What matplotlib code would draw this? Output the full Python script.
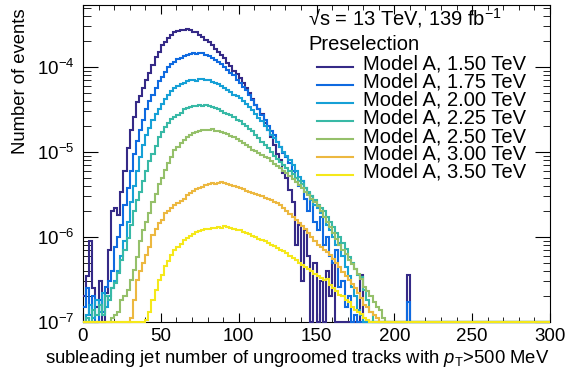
import numpy as np
import matplotlib
matplotlib.use("Agg")
import matplotlib.pyplot as plt
from matplotlib.ticker import MultipleLocator, LogLocator, NullFormatter
from matplotlib.lines import Line2D

plt.rcParams['font.family'] = ['Liberation Sans', 'DejaVu Sans']
plt.rcParams['mathtext.fontset'] = 'custom'
plt.rcParams['mathtext.rm'] = 'Liberation Sans'
plt.rcParams['mathtext.it'] = 'Liberation Sans:italic'
plt.rcParams['mathtext.bf'] = 'Liberation Sans:bold'

# track multiplicity in bins of 2, from 0 up to 210 (all empty above)
# values, in units of 1e-7 events
edges = np.arange(0, 302, 2)
unit = 1e-7

m150 = [2.0, 3.5, 9.0, 2.5, 1.5, 3.0, 0, 2.2, 7, 20,
        22, 18, 34, 60, 110, 180, 260, 390, 450, 560,
        700, 850, 1060, 1300, 1500, 1800, 1950, 2200, 2350, 2550,
        2650, 2750, 2700, 2780, 2700, 2600, 2550, 2380, 2250, 2100,
        1950, 1800, 1650, 1520, 1400, 1280, 1120, 1030, 900, 820,
        740, 640, 560, 490, 420, 360, 320, 280, 220, 180,
        150, 120, 95, 80, 56, 50, 36, 26, 8, 14,
        3, 12, 6, 0, 5, 0, 3, 0, 4, 2,
        5, 0, 0, 0, 0, 0, 0, 0, 0, 3.6,
        0, 0, 0, 0, 0, 0, 0, 0, 0, 0,
        0, 0, 0, 0, 3.6]
m175 = [1.5, 2.5, 1.2, 2.0, 0, 1.8, 1.3, 2.6, 3, 4,
        7.6, 10, 14, 24, 38, 60, 95, 135, 180, 240,
        320, 400, 470, 570, 680, 770, 880, 1000, 1080, 1140,
        1230, 1280, 1330, 1400, 1430, 1460, 1440, 1470, 1450, 1400,
        1340, 1290, 1210, 1150, 1080, 1000, 930, 850, 800, 700,
        640, 580, 530, 470, 410, 360, 320, 270, 240, 200,
        175, 160, 130, 115, 97, 88, 74, 60, 50, 40,
        45, 28, 20, 30, 15, 12, 17, 8, 10, 6,
        5, 7, 2.6, 3, 1.5, 2, 0, 1.2, 0, 0,
        0, 0, 0, 0, 0, 0, 0, 0, 0, 0,
        0, 0, 0, 0, 1.7]
m200 = [0, 1.2, 1.6, 1.1, 1.8, 1.3, 2.2, 1.5, 2.0, 2.5,
        3.0, 4.0, 6, 9, 15, 26, 40, 60, 88, 120,
        160, 190, 235, 280, 320, 370, 420, 470, 520, 560,
        600, 630, 650, 680, 700, 710, 690, 720, 730, 710,
        700, 670, 650, 630, 600, 560, 540, 510, 470, 450,
        430, 400, 370, 340, 310, 280, 250, 230, 200, 180,
        160, 145, 130, 115, 100, 90, 80, 70, 60, 51,
        45, 38, 33, 27, 24, 22, 19, 17, 14, 12,
        10, 8, 8.5, 6, 4.4, 3.5, 2.6, 2, 1.4, 1.2]
m225 = [0, 1.1, 0, 1.4, 1.2, 1.6, 1.2, 2, 1.8, 2.5,
        2.9, 3.8, 5.4, 7, 9.8, 14, 20, 27, 34, 45,
        60, 78, 95, 118, 150, 170, 195, 220, 245, 260,
        275, 290, 320, 325, 335, 345, 350, 355, 350, 360,
        345, 340, 330, 320, 300, 290, 280, 270, 255, 240,
        230, 215, 200, 185, 175, 160, 145, 130, 120, 110,
        100, 90, 82, 76, 70, 65, 60, 55, 50, 46,
        42, 38, 34, 30, 27, 24, 22, 20, 17, 15,
        13, 11, 10, 8.5, 7.2, 5.8, 5, 4.2, 3.6, 3.4,
        2.4, 1.8, 1.3]
m250 = [0, 0, 0, 0, 0, 0, 0, 0, 0, 1.1,
        1.2, 1.3, 1.8, 2.0, 2.4, 3.1, 4.1, 5.8, 9, 12,
        15, 19, 26, 32, 42, 50, 62, 74, 88, 105,
        115, 127, 140, 150, 160, 167, 172, 178, 180, 183,
        181, 185, 178, 175, 172, 168, 162, 155, 150, 142,
        135, 127, 120, 114, 106, 102, 97, 92, 88, 84,
        78, 72, 68, 64, 60, 56, 52, 48, 44, 41,
        38, 34, 31, 28, 26, 23, 20, 17, 15, 13,
        11, 9.5, 8, 7, 6.3, 5.4, 4.8, 4.2, 3.7, 3.2,
        2.6, 2.3, 2.0, 1.7, 1.5, 1.4, 1.1]
m300 = [0, 0, 0, 0, 0, 0, 0, 0, 0, 0,
        0, 0, 0, 0, 0, 1.1, 1.8, 3.1, 4.0, 4.9,
        6.2, 7.6, 10.5, 12.5, 14.5, 16, 19, 20.5, 22, 23.5,
        25, 26.5, 28, 31, 33, 35, 37, 38, 39, 41,
        42, 43, 42, 43, 44, 43, 42, 41, 40, 39,
        38, 37, 35, 34, 33, 32, 31, 30, 29, 28,
        27, 26, 25, 23.5, 22, 20, 18.5, 17, 15.8, 14.5,
        13.5, 12.5, 11, 10, 9, 8, 7.6, 7, 6.6, 6.2,
        5.5, 5.0, 4.4, 3.9, 3.5, 3.1, 2.8, 2.5, 2.2, 1.9,
        1.6, 1.5, 1.3, 1.2, 1.1]
m350 = [0, 0, 0, 0, 0, 0, 0, 0, 0, 0,
        0, 0, 0, 0, 0, 0, 0, 0, 0, 0,
        1.05, 1.3, 1.8, 2.4, 3.1, 3.6, 4.5, 5.2, 6.2, 7,
        7.6, 8.2, 9.2, 9.8, 10.3, 10.8, 11.4, 11.8, 12.2, 12.5,
        12.3, 12.7, 12.8, 13, 12.9, 13.3, 13, 12.6, 12.4, 12,
        12.2, 11.5, 11, 10.8, 10.4, 10.0, 9.6, 9.2, 8.9, 8.5,
        8.1, 7.8, 7.4, 7.0, 6.8, 6.4, 6.0, 5.6, 5.4, 5.0,
        4.7, 4.4, 4.2, 4.0, 3.7, 3.5, 3.3, 3.1, 3.2, 2.7,
        2.5, 2.3, 2.1, 2.0, 1.8, 1.7, 1.5, 1.4, 1.3, 1.25,
        1.1, 1.05]

series = [m150, m175, m200, m225, m250, m300, m350]
labels = ["Model A, 1.50 TeV", "Model A, 1.75 TeV", "Model A, 2.00 TeV",
          "Model A, 2.25 TeV", "Model A, 2.50 TeV", "Model A, 3.00 TeV",
          "Model A, 3.50 TeV"]
colors = ['#352a87', '#0f6ae0', '#16a0d6', '#38b9a6', '#95c06a', '#ecb840', '#f5e81a']

W, H = 567, 383
ymin, ymax = 1e-7, 10 ** (-7 + 317 / 85)

fig = plt.figure(figsize=(W / 100, H / 100), dpi=100)
ax = fig.add_axes([83 / W, 1 - 322 / H, 467 / W, 317 / H])

nb = len(edges) - 1
for vals, col in zip(series, colors):
    y = np.zeros(nb)
    y[:len(vals)] = vals
    y = np.clip(y * unit, ymin, None)   # empty bins sit on the bottom edge
    ax.stairs(y, edges, color=col, lw=1.5, baseline=None, clip_on=False, zorder=3)

ax.set_yscale('log')
ax.set_xlim(0, 300)
ax.set_ylim(ymin, ymax)
ax.xaxis.set_major_locator(MultipleLocator(50))
ax.xaxis.set_minor_locator(MultipleLocator(10))
ax.yaxis.set_major_locator(LogLocator(base=10))
ax.yaxis.set_minor_locator(LogLocator(base=10, subs=np.arange(2, 10)))
ax.yaxis.set_minor_formatter(NullFormatter())

ax.tick_params(which='both', direction='in', top=True, right=True, labelsize=13.5)
ax.tick_params(axis='x', which='major', length=6.5, pad=4)
ax.tick_params(axis='x', which='minor', length=3.6)
ax.tick_params(axis='y', which='major', length=10.8, pad=6)
ax.tick_params(axis='y', which='minor', length=5.4)

fig.text(549 / W, 1 - 363 / H,
         r'subleading jet number of ungroomed tracks with $p_{\mathrm{T}}$>500 MeV',
         fontsize=13.3, ha='right', va='baseline')
fig.text(25 / W, 1 - 8 / H, 'Number of events', fontsize=13.3, rotation=90,
         rotation_mode='anchor', ha='right', va='baseline')

fig.text(308 / W, 1 - 25 / H, '√s = 13 TeV, 139 fb$^{-1}$', fontsize=14.5, va='baseline')
fig.text(308 / W, 1 - 50 / H, 'Preselection', fontsize=14.5, va='baseline')
for k, (lab, col) in enumerate(zip(labels, colors)):
    yb = 70 + 18 * k
    fig.add_artist(Line2D([317 / W, 353 / W], [1 - (yb - 3.5) / H] * 2, color=col, lw=1.5))
    fig.text(363 / W, 1 - yb / H, lab, fontsize=14.5, va='baseline')

fig.savefig('out.png', dpi=100)
